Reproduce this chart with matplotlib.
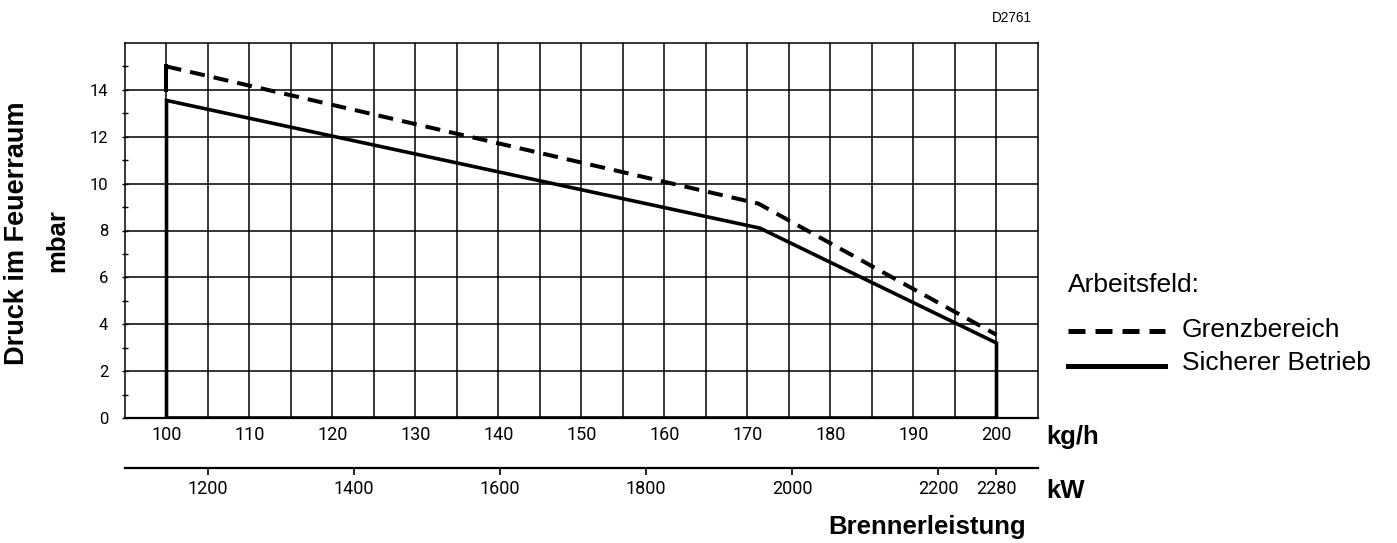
import matplotlib.pyplot as plt
from matplotlib.lines import Line2D
import numpy as np

# data
kg_ticks = list(range(100, 201, 10))
kg_grid = list(range(105, 200, 10))
mbar_ticks = list(range(0, 15, 2))
mbar_minor = list(range(1, 16, 2))
kw_ticks = [1200, 1400, 1600, 1800, 2000, 2200, 2280]

# Grenzbereich (dashed)
grenz_kg = [100, 171.3, 200]
grenz_mbar = [15.0, 9.15, 3.55]
grenz_edge_kg = [100, 100]
grenz_edge_mbar = [14.0, 15.0]

# Sicherer Betrieb (solid, closed field)
sicher_kg = [200, 100, 100, 171.5, 200, 200]
sicher_mbar = [0, 0, 13.55, 8.1, 3.2, 0]


def kg_to_kw(kg):
    return 11.37 * np.asarray(kg) + 6


def kw_to_kg(kw):
    return (np.asarray(kw) - 6) / 11.37


tick_font = 'Roboto'
label_font = 'Liberation Sans'
xs = 13
ys = 12

W, H = 1397, 543
fig = plt.figure(figsize=(W / 100, H / 100), dpi=100)
ax = fig.add_axes([125 / W, 1 - 418 / H, (1038 - 125) / W, (418 - 43) / H])
ax.set_xlim(95, 205)
ax.set_ylim(0, 16)

ax.set_xticks(kg_ticks)
ax.set_xticks(kg_grid, minor=True)
ax.set_yticks(mbar_ticks)
ax.set_yticks(mbar_minor, minor=True)
ax.grid(True, which='major', color='black', lw=1.1)
ax.grid(True, which='minor', axis='x', color='black', lw=1.1)

ax.tick_params(axis='x', which='both', length=0, pad=6)
ax.tick_params(axis='y', which='both', length=4, width=1, direction='inout', pad=10)
for lab in ax.get_xticklabels():
    lab.set_fontfamily(tick_font)
    lab.set_fontsize(xs)
for lab in ax.get_yticklabels():
    lab.set_fontfamily(tick_font)
    lab.set_fontsize(ys)

for s in ['top', 'right', 'left']:
    ax.spines[s].set_linewidth(1.1)
ax.spines['bottom'].set_linewidth(1.6)

ax.plot(sicher_kg, sicher_mbar, color='black', lw=2.6, solid_joinstyle='miter')
ax.plot(grenz_kg, grenz_mbar, color='black', lw=2.9, linestyle=(0, (3.75, 2.25)))
ax.plot(grenz_edge_kg, grenz_edge_mbar, color='black', lw=2.9)

# second scale in kW
sec = ax.secondary_xaxis(-50 / 375, functions=(kg_to_kw, kw_to_kg))
sec.set_xticks(kw_ticks)
sec.tick_params(length=5, width=1.2, direction='out', pad=4)
sec.spines['bottom'].set_linewidth(1.6)
for lab in sec.get_xticklabels():
    lab.set_fontfamily(tick_font)
    lab.set_fontsize(xs)

bold = dict(fontfamily=label_font, fontweight='bold', fontsize=18.5)
fig.text(1046 / W, 1 - 437 / H, 'kg/h', ha='left', va='center', **bold)
fig.text(1046 / W, 1 - 491 / H, 'kW', ha='left', va='center', **bold)
fig.text(927 / W, 1 - 527 / H, 'Brennerleistung', ha='center', va='center', **bold)
fig.text(17 / W, 1 - 233 / H, 'Druck im Feuerraum', rotation=90, ha='center', va='center',
         fontfamily=label_font, fontweight='bold', fontsize=19.5)
fig.text(57 / W, 1 - 241 / H, 'mbar', rotation=90, ha='center', va='center', **bold)
fig.text(1032 / W, 1 - 18 / H, 'D2761', ha='right', va='center', fontfamily=label_font, fontsize=9.8)

# legend
reg = dict(fontfamily=label_font, fontsize=19)
fig.text(1068 / W, 1 - 292 / H, 'Arbeitsfeld:', ha='left', va='baseline', **reg)
fig.text(1182 / W, 1 - 337 / H, 'Grenzbereich', ha='left', va='baseline', **reg)
fig.text(1182 / W, 1 - 370 / H, 'Sicherer Betrieb', ha='left', va='baseline', **reg)
fig.add_artist(Line2D([1068 / W, 1165 / W], [1 - 331 / H, 1 - 331 / H], color='black',
                      lw=3.6, linestyle=(0, (3.4, 2.0)), transform=fig.transFigure))
fig.add_artist(Line2D([1068 / W, 1165 / W], [1 - 366 / H, 1 - 366 / H], color='black',
                      lw=3.6, transform=fig.transFigure))

fig.savefig('out.png', dpi=100)
